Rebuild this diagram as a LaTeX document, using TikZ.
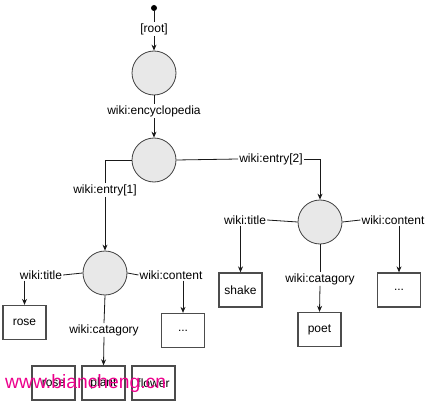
\documentclass[tikz,border=0pt]{standalone}
\usepackage{fontspec}
\setmainfont{Liberation Sans}
\usetikzlibrary{arrows.meta}
\begin{document}
\begin{tikzpicture}[x=1pt,y=-1pt,
  every node/.style={font=\fontsize{12}{14}\selectfont},
  res/.style={circle,draw=black!75,fill=black!9,line width=0.8pt,minimum size=44pt,inner sep=0pt},
  leaf/.style={draw=black!70,line width=1.3pt,minimum width=43pt,minimum height=34pt,inner sep=0pt},
  lab/.style={inner sep=1pt},
  conn/.style={line width=0.8pt,black!90},
  arr/.style={conn,-{Stealth[length=6pt,width=5pt]}}]
\useasboundingbox (0,0) rectangle (428,401);
% start dot
\node[circle,fill=black,inner sep=0pt,minimum size=6pt] (dot) at (154,8) {};
\node[lab] (root) at (154,29) {[root]};
\node[res] (c1) at (154,73) {};
\node[lab] (enc) at (154,111) {wiki:encyclopedia};
\node[res] (c2) at (154,160) {};
\node[lab] (e1) at (105,190) {wiki:entry[1]};
\node[lab] (e2) at (271,159) {wiki:entry[2]};
\node[res] (c3) at (105,273) {};
\node[res] (c4) at (320,222) {};
% left entry
\node[lab] (t1) at (41,275) {wiki:title};
\node[lab] (ct1) at (171,275) {wiki:content};
\node[lab] (cat1) at (104,330) {wiki:catagory};
\node[leaf] (rose) at (24.5,322.5) {rose};
\node[leaf] (dots1) at (183,330.5) {...};
\node[leaf] (rose2) at (53.5,383) {rose};
\node[leaf] (plant) at (103.5,383) {plant};
\node[leaf] (flower) at (153.5,383) {flower};
% right entry
\node[lab] (t2) at (245,220) {wiki:title};
\node[lab] (ct2) at (393,220) {wiki:content};
\node[lab] (cat2) at (320,279) {wiki:catagory};
\node[leaf] (shake) at (240.5,290) {shake};
\node[leaf] (poet) at (319.5,329.5) {poet};
\node[leaf] (dots2) at (399,290) {...};
% connectors
\draw[conn] (dot) -- (root.north);
\draw[arr] (root.south) -- (c1.north);
\draw[conn] (c1.south) -- (enc.north);
\draw[arr] (enc.south) -- (c2.north);
\draw[conn] (c2.west) -| (e1.north);
\draw[arr] (e1.south) -- (c3.north);
\draw[conn] (c2.east) -- (e2.west);
\draw[arr] (e2.east) -| (c4.north);
\draw[conn] (c3.west) -- (t1.east);
\draw[arr] (t1.south -| rose.north) -- (rose.north);
\draw[conn] (c3.east) -- (ct1.west);
\draw[arr] (ct1.south -| dots1.north) -- (dots1.north);
\draw[conn] (c3.south) -- (cat1.north);
\draw[arr] (cat1.south) -- (plant.north);
\draw[conn] (c4.west) -- (t2.east);
\draw[arr] (t2.south -| shake.north) -- (shake.north);
\draw[conn] (c4.east) -- (ct2.west);
\draw[arr] (ct2.south -| dots2.north) -- (dots2.north);
\draw[conn] (c4.south) -- (cat2.north);
\draw[arr] (cat2.south) -- (poet.north);
% watermark
\node[inner sep=0pt,anchor=west,text=magenta,font=\fontsize{19.3}{22}\selectfont] (wm) at (5,384) {www.biancheng.cn};
\end{tikzpicture}
\end{document}
